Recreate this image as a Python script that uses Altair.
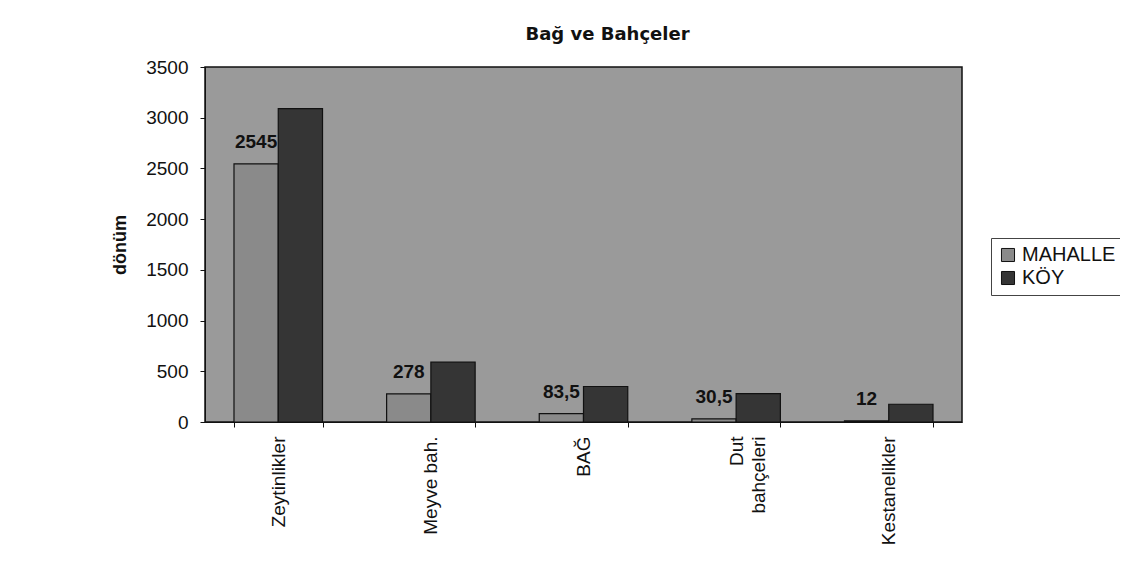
import altair as alt
import pandas as pd

categories = ["Zeytinlikler", "Meyve bah.", "BAĞ", "Dut bahçeleri", "Kestanelikler"]
series = ["MAHALLE", "KÖY"]
mahalle = [2545, 278, 83.5, 30.5, 12]
koy = [3090, 590, 350, 280, 175]
mahalle_labels = ["2545", "278", "83,5", "30,5", "12"]
y_ticks = [0, 500, 1000, 1500, 2000, 2500, 3000, 3500]

rows = []
for c, m, k in zip(categories, mahalle, koy):
    rows.append({"kategori": c, "seri": "MAHALLE", "deger": m})
    rows.append({"kategori": c, "seri": "KÖY", "deger": k})
df = pd.DataFrame(rows)

lab = pd.DataFrame({"kategori": categories, "seri": ["MAHALLE"] * 5,
                    "deger": mahalle, "etiket": mahalle_labels})

FONT = "Liberation Sans"

x_enc = alt.X("kategori:N", sort=categories,
              scale=alt.Scale(paddingInner=0.42, paddingOuter=0.19),
              axis=alt.Axis(title=None, labelAngle=-90, labelFontSize=19, labelFont=FONT,
                            labelColor="#111", labelPadding=9, tickBand="extent",
                            tickSize=5, tickColor="#111", domainColor="#111",
                            labelExpr="datum.value == 'Dut bahçeleri' ? ['Dut', 'bahçeleri'] : datum.label",
                            labelLineHeight=22))
xo_enc = alt.XOffset("seri:N", sort=series, scale=alt.Scale(domain=series))
y_enc = alt.Y("deger:Q", scale=alt.Scale(domain=[0, 3500], nice=False),
              axis=alt.Axis(title="dönüm", values=y_ticks, format="d", labelFontSize=19,
                            labelFont=FONT, labelColor="#111", titleFont=FONT,
                            titleFontSize=18, titleFontWeight="bold", titleColor="#111",
                            titlePadding=16, tickSize=5, tickColor="#111",
                            domainColor="#111", grid=False, labelPadding=12))

bars = alt.Chart(df).mark_bar(stroke="#111", strokeWidth=1.2).encode(
    x=x_enc, xOffset=xo_enc, y=y_enc,
    color=alt.Color("seri:N", sort=series,
                    scale=alt.Scale(domain=series, range=["#8a8a8a", "#353535"]),
                    legend=alt.Legend(title=None, orient="none", legendX=786, legendY=171,
                                      symbolType="square", symbolSize=170,
                                      symbolStrokeColor="#111", symbolStrokeWidth=1,
                                      labelFont=FONT, labelFontSize=20, labelColor="#111",
                                      labelOffset=4, strokeColor="#444",
                                      padding=7, rowPadding=3,
                                      fillColor="white", labelLimit=200))
)

texts = alt.Chart(lab).mark_text(font=FONT, fontSize=19, fontWeight="bold", color="#111",
                                 baseline="alphabetic", dy=-16).encode(
    x=alt.X("kategori:N", sort=categories), xOffset=xo_enc,
    y=alt.Y("deger:Q"), text="etiket:N")

chart = alt.layer(bars, texts).properties(
    width=757, height=355,
    background="white",
    title=alt.TitleParams("Bağ ve Bahçeler", font="DejaVu Sans", fontSize=18,
                          fontWeight="bold", color="#111", offset=14, anchor="middle", dx=24),
    autosize=alt.AutoSizeParams(type="none"),
    padding={"left": 197, "top": 59, "right": 158, "bottom": 131},
).configure_view(fill="#9a9a9a", stroke="#111", strokeWidth=1.5)

chart.save("out.html", embed_options={"renderer": "svg", "actions": False})
